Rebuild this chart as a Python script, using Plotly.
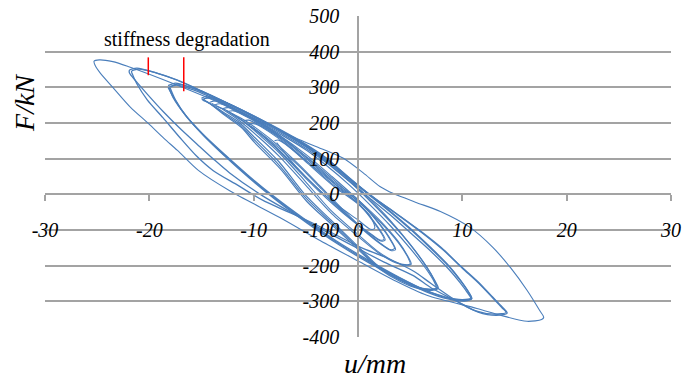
import plotly.graph_objects as go

# ---------------- data ----------------
x_tick_vals = [-30, -20, -10, 0, 10, 20, 30]
x_tick_text = ["-30", "-20", "-10", "0", "10", "20", "30"]
y_tick_vals = [-400, -300, -200, -100, 0, 100, 200, 300, 400, 500]
y_tick_text = ["-400", "-300", "-200", "-100", "0", "100", "200", "300", "400", "500"]

# outermost loop (one cycle)
A_x = [-25.3, -24.8, -23.5, -21.9, -18.7, -14.9, -11.3, -9.4, -7.5, -5.6, -3.5, -1.4, 0.5, 2.1, 3.4, 5.5, 7.9, 10.7, 12.9, 14.6, 16.2, 17.4, 17.8,
       17.6, 16.2, 13.8, 11.4, 6.6, 3.4, 0.2, -3.6, -7.5, -12.3, -15.3, -17.3, -18.6, -20.1, -21.8, -23.5, -24.7, -25.2, -25.3]
A_y = [373, 377, 372, 357, 322, 277, 231, 205, 180, 153, 128, 101, 60, 22, 2, -22, -48, -92, -148, -205, -269, -325, -345,
       -351, -356, -340, -320, -283, -240, -190, -130, -65, 10, 67, 123, 157, 199, 244, 300, 340, 362, 373]

# second amplitude (two cycles)
B1_x = [-21.9, -21.2, -19.5, -17.5, -15.0, -12.5, -10.0, -7.5, -5.0, -3.2, -2.0, 0.9, 3.5, 5.9, 8.0, 9.8, 11.5, 12.8, 13.8, 14.3,
        13.3, 11.5, 9.8, 7.0, 5.3, 2.5, 0.2, -4.3, -9.1, -12.3, -13.9, -15.4, -17.1, -18.7, -20.2, -21.3, -21.9, -21.9]
B1_y = [348, 354, 342, 322, 290, 256, 220, 182, 140, 105, 76, 3, -50, -101, -150, -200, -245, -285, -315, -333,
        -339, -330, -305, -262, -228, -190, -155, -85, -5, 60, 100, 140, 186, 233, 281, 318, 340, 348]
B2_x = [-21.7, -21.0, -19.3, -17.3, -14.8, -12.3, -9.8, -7.3, -4.8, -3.0, -1.8, 1.1, 3.7, 6.1, 8.2, 10.0, 11.6, 12.9, 13.8, 14.2,
        13.1, 11.2, 9.5, 7.0, 5.3, 2.5, 0.2, -4.3, -9.1, -11.5, -13.9, -15.5, -17.1, -18.7, -20.2, -21.2, -21.6, -21.7]
B2_y = [345, 351, 340, 320, 287, 252, 215, 176, 134, 100, 70, 0, -55, -107, -157, -207, -250, -290, -318, -331,
        -336, -326, -300, -250, -215, -175, -148, -81, -17, 25, 67, 108, 160, 215, 265, 310, 335, 345]

# third amplitude (three cycles)
C1_x = [-18.2, -17.5, -16.0, -14.5, -12.5, -10.0, -7.5, -5.0, -3.0, -1.0, 1.0, 3.0, 5.0, 7.0, 8.7, 9.8, 10.5, 10.9,
        10.1, 8.5, 6.5, 4.0, 1.0, -2.0, -5.0, -8.0, -10.5, -12.8, -14.8, -16.5, -17.6, -18.2]
C1_y = [305, 312, 300, 282, 255, 219, 180, 135, 95, 48, 2, -45, -95, -150, -200, -240, -270, -292,
        -297, -290, -270, -235, -188, -135, -75, -10, 50, 110, 165, 220, 268, 300]
C2_x = [-18.0, -17.3, -15.8, -14.3, -12.3, -9.8, -7.3, -4.8, -2.8, -0.8, 1.2, 3.2, 5.2, 7.2, 8.8, 9.9, 10.6, 10.9,
        10.2, 8.6, 6.6, 4.1, 1.1, -1.9, -4.9, -7.9, -10.4, -12.7, -14.7, -16.4, -17.5, -18.0]
C2_y = [302, 309, 297, 279, 252, 215, 175, 130, 90, 42, -5, -52, -103, -158, -205, -245, -274, -293,
        -299, -293, -274, -240, -193, -140, -80, -15, 45, 105, 162, 217, 265, 298]
C3_x = [-18.1, -17.4, -15.9, -14.4, -12.4, -9.9, -7.4, -4.9, -2.9, -0.9, 1.1, 3.1, 5.1, 7.1, 8.7, 9.8, 10.5, 10.8,
        10.0, 8.4, 6.4, 3.9, 0.9, -2.1, -5.1, -8.1, -10.6, -12.9, -14.9, -16.6, -17.7, -18.1]
C3_y = [300, 306, 294, 276, 249, 212, 172, 127, 86, 38, -10, -58, -110, -163, -210, -248, -276, -291,
        -295, -288, -268, -232, -183, -130, -70, -5, 55, 115, 170, 224, 270, 298]

# fourth amplitude (three cycles) - lower-left branch fans out from the tip
D1_x = [-15.0, -14.4, -12.5, -10.0, -7.5, -5.0, -3.0, -1.0, 1.0, 3.0, 5.0, 6.5, 7.3, 7.6,
        7.0, 5.8, 4.0, 2.0, 0.0, -2.5, -5.0, -7.5, -10.0, -11.3, -12.8, -14.2, -15.0]
D1_y = [270, 275, 255, 220, 180, 138, 95, 45, -10, -70, -140, -200, -240, -262,
        -267, -262, -240, -205, -150, -80, -10, 80, 155, 195, 225, 255, 268]
D2_x = [-14.8, -14.2, -12.3, -9.8, -7.3, -4.8, -2.8, -0.8, 1.2, 3.2, 5.2, 6.6, 7.4, 7.7,
        7.1, 5.9, 4.1, 2.1, 0.1, -2.4, -4.9, -7.4, -9.9, -11.2, -12.7, -14.0, -14.8]
D2_y = [267, 272, 251, 215, 174, 130, 86, 36, -20, -80, -148, -205, -244, -263,
        -269, -265, -245, -210, -157, -88, -20, 70, 145, 188, 220, 250, 265]
D3_x = [-14.9, -14.3, -12.4, -9.9, -7.4, -4.9, -2.9, -0.9, 1.1, 3.1, 5.1, 6.5, 7.3, 7.5,
        6.9, 5.7, 3.9, 1.9, -0.1, -2.6, -5.1, -7.6, -10.1, -11.4, -12.9, -14.2, -14.9]
D3_y = [266, 270, 248, 210, 168, 123, 78, 28, -28, -88, -155, -208, -245, -262,
        -266, -260, -237, -200, -143, -72, 0, 92, 165, 202, 230, 255, 264]

# inner cycles (tips inside the fan, dense central band)
E1_x = [-14.2, -13.6, -12.0, -10.0, -7.5, -5.0, -2.5, 0.0, 2.0, 3.8, 4.8, 5.1,
        4.6, 3.6, 2.0, 0.0, -2.5, -5.0, -7.5, -9.5, -11.3, -12.8, -14.0]
E1_y = [258, 262, 240, 210, 165, 112, 50, -15, -70, -130, -175, -196,
        -199, -192, -165, -118, -55, 25, 105, 160, 205, 235, 255]
E2_x = [-13.8, -13.2, -11.8, -9.8, -7.3, -4.8, -2.3, 0.2, 2.2, 3.9, 4.8, 5.0,
        4.5, 3.5, 1.9, -0.1, -2.6, -5.1, -7.6, -9.6, -11.2, -12.6, -13.6]
E2_y = [250, 254, 234, 203, 157, 102, 40, -25, -80, -137, -178, -195,
        -197, -188, -160, -110, -45, 38, 118, 170, 210, 235, 248]
F1_x = [-13.0, -12.4, -10.0, -7.5, -5.0, -2.5, 0.0, 2.0, 3.2, 3.6,
        3.2, 2.2, 0.5, -1.5, -3.5, -5.5, -7.5, -9.5, -11.3, -12.6]
F1_y = [240, 243, 212, 165, 105, 40, -15, -80, -130, -155,
        -158, -140, -100, -45, 15, 75, 128, 175, 210, 235]
F2_x = [-12.5, -11.9, -9.8, -7.3, -4.8, -2.3, 0.2, 2.1, 3.2, 3.5,
        3.1, 2.1, 0.4, -1.6, -3.6, -5.6, -7.6, -9.5, -11.0, -12.2]
F2_y = [232, 234, 205, 157, 96, 32, -24, -86, -133, -152,
        -155, -136, -95, -38, 22, 82, 136, 180, 210, 228]
G1_x = [-11.0, -10.5, -7.5, -5.0, -2.5, 0.0, 1.5, 2.6,
        2.2, 1.2, -0.5, -2.5, -5.0, -7.5, -9.5, -10.8]
G1_y = [205, 208, 158, 95, 30, -25, -75, -128,
        -131, -112, -75, -25, 45, 120, 172, 200]
G2_x = [-10.5, -10.0, -7.3, -4.8, -2.3, 0.2, 1.6, 2.5,
        2.1, 1.1, -0.6, -2.6, -5.1, -7.6, -9.3, -10.3]
G2_y = [195, 198, 150, 86, 22, -32, -82, -126,
        -128, -108, -70, -18, 52, 125, 170, 192]
H1_x = [-8.0, -7.6, -5.0, -2.5, 0.0, 1.2, 1.6, 1.2, 0.0, -2.0, -4.0, -6.0, -7.8]
H1_y = [150, 152, 95, 35, -25, -62, -95, -98, -72, -30, 20, 80, 145]

# "stiffness degradation" markers (red ticks)
marker_x = [-20.1, -16.7]
marker_top = [384, 384]
marker_bottom = [334, 289]

# ---------------- figure ----------------
loops = [(A_x, A_y, 1.1),
         (B1_x, B1_y, 1.3), (B2_x, B2_y, 1.3),
         (C1_x, C1_y, 1.3), (C2_x, C2_y, 1.3), (C3_x, C3_y, 1.3),
         (D1_x, D1_y, 1.2), (D2_x, D2_y, 1.2), (D3_x, D3_y, 1.2),
         (E1_x, E1_y, 1.1), (E2_x, E2_y, 1.1),
         (F1_x, F1_y, 1.1), (F2_x, F2_y, 1.1),
         (G1_x, G1_y, 1.1), (G2_x, G2_y, 1.1),
         (H1_x, H1_y, 1.1)]

LINE = "#4A7EBB"
GRID = "#a3a3a3"
SERIF = "Liberation Serif, Times New Roman, serif"

fig = go.Figure()
for xs, ys, w in loops:
    fig.add_trace(go.Scatter(x=xs, y=ys, mode="lines",
                             line=dict(color=LINE, width=w, shape="spline", smoothing=0.8),
                             hoverinfo="skip", showlegend=False))

X_RANGE = [-30, 30]
Y_RANGE = [-400, 500]
x_axis_pos = (0 - Y_RANGE[0]) / (Y_RANGE[1] - Y_RANGE[0])
y_axis_pos = (0 - X_RANGE[0]) / (X_RANGE[1] - X_RANGE[0])

fig.update_layout(
    width=688, height=382,
    margin=dict(l=45, r=17, t=16, b=45, autoexpand=False),
    plot_bgcolor="white", paper_bgcolor="white",
    showlegend=False,
    xaxis=dict(range=X_RANGE, tickvals=x_tick_vals, ticktext=x_tick_text, automargin=False,
               showgrid=False, zeroline=False, showline=True, linecolor=GRID, linewidth=1.5,
               ticks="outside", ticklen=6, tickwidth=1.5, tickcolor=GRID,
               anchor="free", position=x_axis_pos, ticklabelstandoff=12,
               tickfont=dict(family=SERIF, size=20, color="black", style="italic")),
    yaxis=dict(range=Y_RANGE, tickvals=y_tick_vals, ticktext=y_tick_text, automargin=False,
               showgrid=True, gridcolor=GRID, gridwidth=1.5, zeroline=False,
               showline=True, linecolor=GRID, linewidth=1.5, ticks="",
               anchor="free", position=y_axis_pos, ticklabelstandoff=14,
               tickfont=dict(family=SERIF, size=20, color="black", style="italic")),
)

# white box behind the annotation text (hides grid lines there)
fig.add_shape(type="rect", xref="x", yref="paper", x0=-24.8, x1=-7.7, y0=0.874, y1=1.02,
              fillcolor="white", line=dict(width=0), layer="between")
for mx, mt, mb in zip(marker_x, marker_top, marker_bottom):
    fig.add_shape(type="line", xref="x", yref="y", x0=mx, x1=mx, y0=mt, y1=mb,
                  line=dict(color="red", width=1.5), layer="above")

fig.add_annotation(x=-16.4, y=434, xref="x", yref="y", text="stiffness degradation",
                   showarrow=False, font=dict(family=SERIF, size=20, color="black"))
fig.add_annotation(x=-0.032, y=0.729, xref="paper", yref="paper", text="F/kN",
                   xanchor="center", yanchor="middle",
                   textangle=-90, showarrow=False,
                   font=dict(family=SERIF, size=28, color="black", style="italic"))
fig.add_annotation(x=0.527, y=-0.084, xref="paper", yref="paper", text="u/mm",
                   xanchor="center", yanchor="middle", showarrow=False,
                   font=dict(family=SERIF, size=28, color="black", style="italic"))

fig.write_html("out.html")
